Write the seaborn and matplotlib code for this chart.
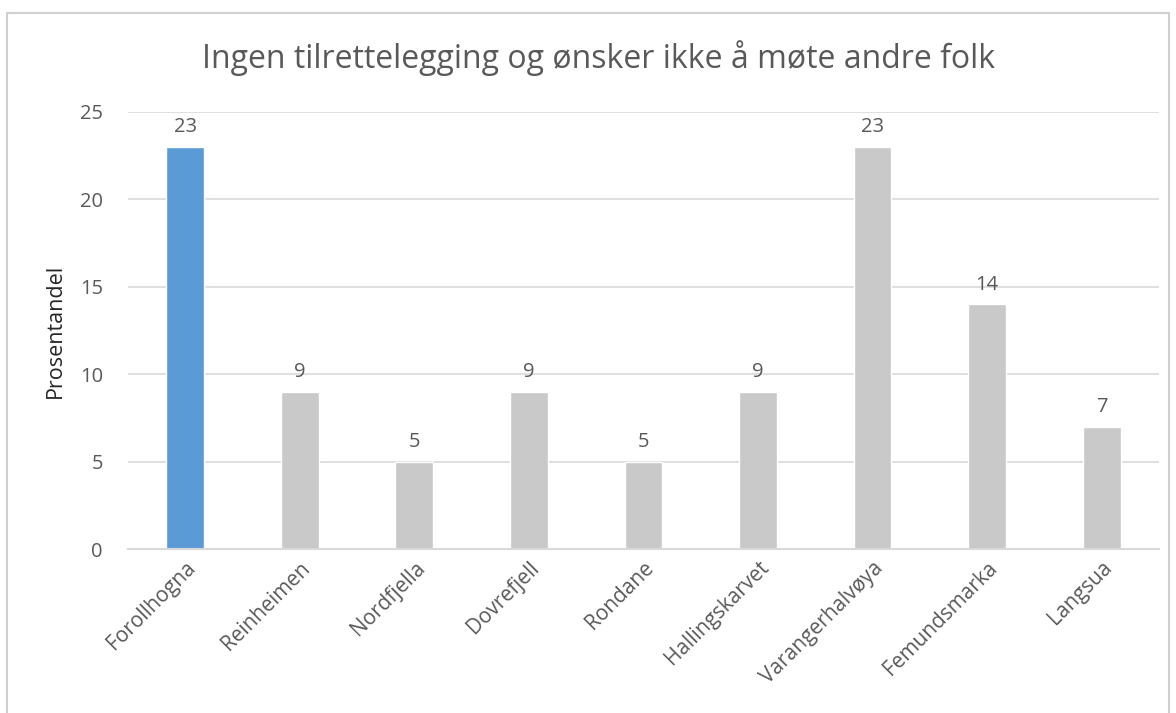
import pandas as pd
import matplotlib.pyplot as plt
import seaborn as sns
from matplotlib.patches import Rectangle

# Data
areas = ['Forollhogna', 'Reinheimen', 'Nordfjella', 'Dovrefjell', 'Rondane',
         'Hallingskarvet', 'Varangerhalvøya', 'Femundsmarka', 'Langsua']
shares = [23, 9, 5, 9, 5, 9, 23, 14, 7]
highlight = ['Forollhogna']

df = pd.DataFrame({'area': areas, 'share': shares})
df['group'] = ['hl' if a in highlight else 'other' for a in areas]

sns.set_style('white')
plt.rcParams['font.family'] = ['Open Sans', 'DejaVu Sans']
text_col = '#595959'

fig = plt.figure(figsize=(11.76, 7.13), dpi=100)
ax = fig.add_axes([0.1088, 0.230, 0.8767, 0.613])

sns.barplot(data=df, x='area', y='share', hue='group',
            palette={'hl': '#5B9BD5', 'other': '#C9C9C9'},
            dodge=False, legend=False, width=0.33, saturation=1, ax=ax)

for c in ax.containers:
    ax.bar_label(c, fmt='%d', padding=7, fontsize=14.5, color=text_col)

ax.set_ylim(0, 25)
ax.set_yticks(range(0, 26, 5))
ax.set_xlim(-0.5, len(areas) - 0.5)
ax.yaxis.grid(True, color='#D9D9D9', linewidth=1.2)
ax.set_axisbelow(True)
for s in ['top', 'right', 'left']:
    ax.spines[s].set_visible(False)
ax.spines['bottom'].set_color('#D9D9D9')
ax.spines['bottom'].set_linewidth(1.5)

ax.tick_params(axis='y', length=0, pad=18, labelsize=14.5, labelcolor=text_col)
ax.tick_params(axis='x', length=0, pad=6, labelsize=15, labelcolor=text_col)
plt.setp(ax.get_xticklabels(), rotation=45, ha='right', rotation_mode='anchor')

ax.set_xlabel('')
ax.set_ylabel('Prosentandel', fontsize=15.5, color='#262626', labelpad=10)
fig.text(0.509, 0.918, 'Ingen tilrettelegging og ønsker ikke å møte andre folk',
         ha='center', va='center', fontsize=23, color=text_col)

# chart border
fig.patches.append(Rectangle((0.006, -0.01), 0.988, 0.992, transform=fig.transFigure,
                             fill=False, edgecolor='#D0D0D0', linewidth=1.5))

fig.savefig('out.png', dpi=100)
